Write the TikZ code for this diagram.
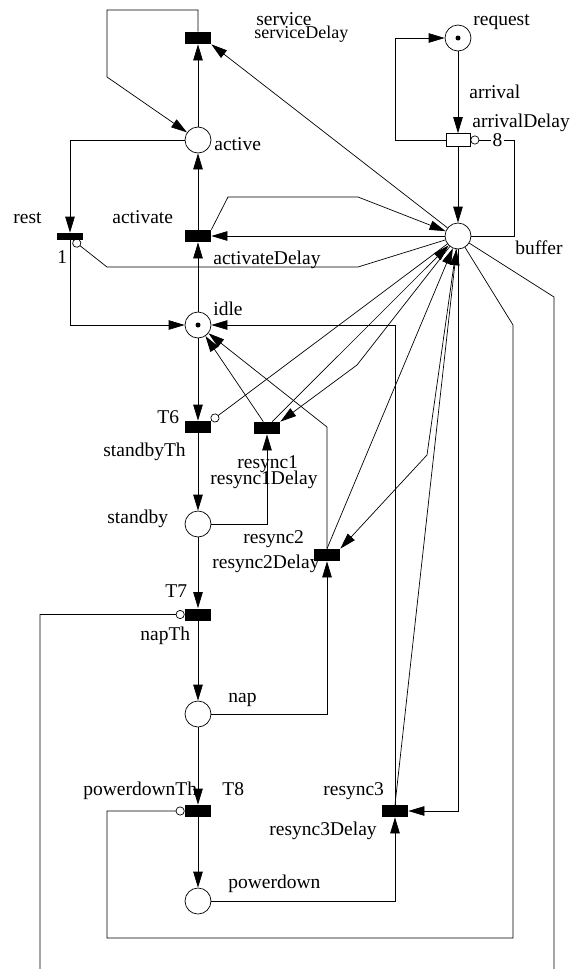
\documentclass[tikz,border=0pt]{standalone}
\usepackage{fontspec}
\setmainfont{Liberation Serif}
\usetikzlibrary{arrows.meta}
\begin{document}
\begin{tikzpicture}
  [x=1pt,y=-1pt,line width=.7pt,font=\fontsize{19.5}{22}\selectfont,
   place/.style={circle,draw,minimum size=26pt,inner sep=0pt},
   trans/.style={rectangle,fill=black,minimum width=26pt,minimum height=12pt,inner sep=0pt},
   lbl/.style={anchor=base west,inner sep=0pt},
   link/.style={-{Triangle[length=16pt,width=9.5pt]}},
   inhib/.style={-{Circle[open,length=9pt]}}]
  \useasboundingbox (0,0) rectangle (573,969);

  \node[place] (request) at (458,38) {};
  \node[trans,fill=white,draw,minimum width=24pt,minimum height=13pt] (arrival) at (458,140) {};
  \node[place] (buffer) at (458,236) {};
  \node[trans] (service) at (198,38) {};
  \node[place] (active) at (198,140) {};
  \node[trans] (activate) at (198,236) {};
  \node[trans,minimum height=7pt] (rest) at (70,236.5) {};
  \node[place] (idle) at (198,325) {};
  \node[trans] (T6) at (198,427) {};
  \node[trans] (resync1) at (267,428) {};
  \node[place] (standby) at (198,524) {};
  \node[trans] (resync2) at (327,555) {};
  \node[trans] (T7) at (198,614.5) {};
  \node[place] (nap) at (198,714) {};
  \node[trans] (T8) at (198,811) {};
  \node[trans] (resync3) at (395,811) {};
  \node[place] (powerdown) at (198,901) {};
  \fill (request) circle (2.5);
  \fill (idle) circle (2.5);

  \node[lbl] (l-request) at (473,25) {request};
  \node[lbl] (l-arrival) at (469,98) {arrival};
  \node[lbl] (l-arrivalDelay) at (472,127) {arrivalDelay};
  \node[inner sep=1.5pt] (m8) at (497.5,140) {8};
  \node[lbl] (l-buffer) at (515,254) {buffer};
  \node[lbl] (l-service) at (256,25) {service};
  \node[lbl,font=\fontsize{18}{21}\selectfont] (l-serviceDelay) at (254,38) {serviceDelay};
  \node[lbl] (l-active) at (214,150) {active};
  \node[lbl] (l-rest) at (13,223) {rest};
  \node[lbl] (l-activate) at (112,223) {activate};
  \node[lbl] (l-one) at (57,263) {1};
  \node[lbl] (l-activateDelay) at (213,264) {activateDelay};
  \node[lbl] (l-idle) at (213,315) {idle};
  \node[lbl] (l-T6) at (157,423) {T6};
  \node[lbl] (l-standbyTh) at (103,456) {standbyTh};
  \node[lbl] (l-resync1) at (237,468) {resync1};
  \node[lbl] (l-resync1Delay) at (210,484) {resync1Delay};
  \node[lbl] (l-standby) at (107,523) {standby};
  \node[lbl] (l-resync2) at (243,543) {resync2};
  \node[lbl] (l-resync2Delay) at (212,568) {resync2Delay};
  \node[lbl] (l-T7) at (165,597) {T7};
  \node[lbl] (l-napTh) at (140,640) {napTh};
  \node[lbl] (l-nap) at (228,702) {nap};
  \node[lbl] (l-T8) at (222,795) {T8};
  \node[lbl] (l-powerdownTh) at (83,795) {powerdownTh};
  \node[lbl] (l-resync3) at (323,795) {resync3};
  \node[lbl,anchor=base east] (l-resync3Delay) at (377,835) {resync3Delay};
  \node[lbl] (l-powerdown) at (228,888) {powerdown};

  \foreach \from/\to in {request/arrival,arrival/buffer,active/service,activate/active,
      idle/activate,idle/T6,T6/standby,standby/T7,T7/nap,nap/T8,T8/powerdown,buffer/activate}
    \draw[link] (\from) -- (\to);

  \draw[link] (arrival.west) -- (395,140) |- (request);
  \draw[inhib] (buffer) -| (514,140) -- (m8) -- (arrival);
  \draw[link] (service.north) |- (107,10) -- (107,77) -- (active);
  \draw[link] (buffer) -- (service.south east);
  \draw[link] (activate.north east) -- (228,197) -- (358,197) -- (buffer);
  \draw[link] (active) -| (rest);
  \draw[link] (rest) |- (idle);
  \draw[inhib] (buffer) -- (358,267) -- (107,267) -- (rest.-50);
  \draw[inhib] (buffer) -- (T6.north east);
  \draw[link] (standby) -| (resync1);
  \draw[link] (resync1.120) -- (idle);
  \draw[link] (resync1.50) -- (buffer);
  \draw[link] (buffer) -- (357,365) -- (resync1.north east);
  \draw[link] (resync2.north) -- (327,427) -- (idle);
  \draw[link] (resync2.north) -- (buffer);
  \draw[link] (buffer) -- (427,455) -- (resync2.north east);
  \draw[link] (nap) -| (resync2);
  \draw[inhib] (buffer) -- (554,297) |- (40,990) |- (T7);
  \draw[inhib] (buffer) -- (513,325) |- (107,938) |- (T8);
  \draw[link] (powerdown) -| (resync3);
  \draw[link] (buffer) |- (resync3);
  \draw[link] (resync3.north) -- (buffer);
  \draw[link] (resync3) |- (idle);
\end{tikzpicture}
\end{document}
